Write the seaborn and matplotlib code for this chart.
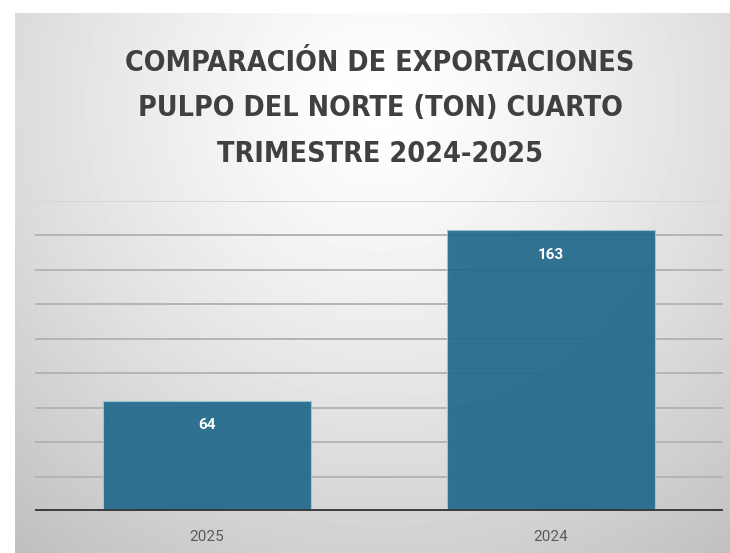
import matplotlib
matplotlib.use("Agg")
import matplotlib.pyplot as plt
import numpy as np
import pandas as pd
import seaborn as sns

# datos
anios = ["2025", "2024"]
toneladas = [64, 163]
titulo = "COMPARACIÓN DE EXPORTACIONES\nPULPO DEL NORTE (TON) CUARTO\nTRIMESTRE 2024-2025"

sns.set_theme(style="white")
plt.rcParams['font.family'] = ['DejaVu Sans']

fig = plt.figure(figsize=(7.3, 5.53), dpi=100)
fig.patch.set_facecolor("white")

# fondo con degradado radial
bg = fig.add_axes([15/730, 0, 715/730, 540/553], zorder=-1)
yy, xx = np.mgrid[0:540, 0:715]
d = np.sqrt(((xx - 365) / 520.0) ** 2 + ((yy - 90) / 520.0) ** 2)
g = 1.0 - 0.22 * np.clip(d, 0, 1.2) ** 1.3
bg.imshow(g, cmap="gray", vmin=0, vmax=1, aspect="auto", interpolation="bilinear")
bg.axis("off")

ax = fig.add_axes([35/730, 42/553, 688/730, 310/553])
ax.set_facecolor("none")
df = pd.DataFrame({"anio": anios, "ton": toneladas})
sns.barplot(data=df, x="anio", y="ton", color="#22698b", width=0.605,
            edgecolor="#9cc6d8", linewidth=0.8, alpha=0.93, saturation=1,
            ax=ax, zorder=2)

ax.set_ylim(0, 180)
ax.set_yticks(range(0, 181, 20))
ax.set_yticklabels([])
ax.tick_params(axis="y", length=0)
for v in range(20, 181, 20):
    ax.axhline(v, color="#b4b4b4" if v < 180 else "#d6d6d6", lw=1.4, zorder=1)
ax.axhline(0, color="#3c3c3c", lw=2.8, zorder=3)
for s in ax.spines.values():
    s.set_visible(False)
ax.set_xlabel("")
ax.set_ylabel("")
ax.tick_params(axis="x", length=0, pad=14, labelsize=11, labelcolor="#595959")
for lbl in ax.get_xticklabels():
    lbl.set_family(["Roboto", "DejaVu Sans"])

for i, v in enumerate(toneladas):
    ax.annotate(str(v), (i, v), xytext=(0, -17.5), textcoords="offset points",
                ha="center", va="center", color="white", fontsize=11,
                fontweight="bold", family=["Roboto", "DejaVu Sans"], zorder=4)

fig.text(0.5205, 0.804, titulo, ha="center", va="center", fontsize=20.5,
         fontweight="bold", fontstretch="condensed", color="#404040",
         linespacing=1.78, family=["DejaVu Sans"])

fig.savefig("out.png", dpi=100)
